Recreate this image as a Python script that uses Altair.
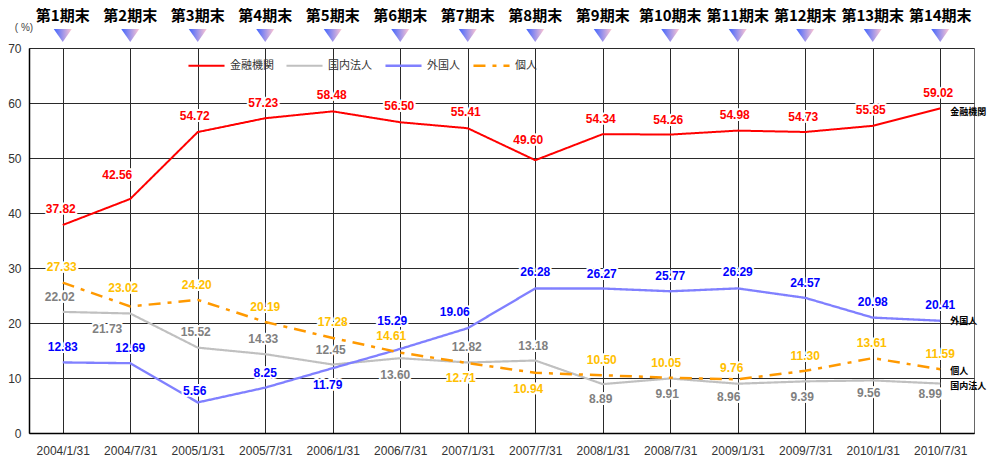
import altair as alt
import pandas as pd

# ---------------- data ----------------
dates = ["2004/1/31", "2004/7/31", "2005/1/31", "2005/7/31", "2006/1/31", "2006/7/31",
         "2007/1/31", "2007/7/31", "2008/1/31", "2008/7/31", "2009/1/31", "2009/7/31",
         "2010/1/31", "2010/7/31"]
periods = ["第1期末", "第2期末", "第3期末", "第4期末", "第5期末", "第6期末", "第7期末",
           "第8期末", "第9期末", "第10期末", "第11期末", "第12期末", "第13期末", "第14期末"]
series_names = ["金融機関", "国内法人", "外国人", "個人"]

financial = [37.82, 42.56, 54.72, 57.23, 58.48, 56.50, 55.41, 49.60, 54.34, 54.26, 54.98, 54.73, 55.85, 59.02]
domestic = [22.02, 21.73, 15.52, 14.33, 12.45, 13.60, 12.82, 13.18, 8.89, 9.91, 8.96, 9.39, 9.56, 8.99]
foreign = [12.83, 12.69, 5.56, 8.25, 11.79, 15.29, 19.06, 26.28, 26.27, 25.77, 26.29, 24.57, 20.98, 20.41]
individual = [27.33, 23.02, 24.20, 20.19, 17.28, 14.61, 12.71, 10.94, 10.50, 10.05, 9.76, 11.30, 13.61, 11.59]

# ---------------- label placement (pixel offsets from each point) ----------------
fin_dx = [-2, -13, -3, -2, -1, -1, -2, -7, -2, -2, -3, -2, -2, -2]
fin_dy = [-16, -24, -16, -15, -16, -16, -16, -20, -15, -15, -16, -15, -16, -15]
dom_dx = [-3, -23, -2, -2, -2, -5, -1, -2, -2, -3, -9, -3, -4, -10]
dom_dy = [-15, 16, -16, -15, -15, 17, -15, -15, 15, 16, 13, 16, 13, 10]
for_dx = [0, 0, -3, 0, -5, -8, -13, 0, -1, 0, 0, 0, 0, 0]
for_dy = [-15, -15, -11, -15, 17, -28, -16, -16, -15, -15, -16, -15, -16, -16]
ind_dx = [-1, -7, -1, 0, 0, -9, -7, -7, -1, -4, -6, 0, -1, 0]
ind_dy = [-16, -18, -15, -15, -16, -17, 15, 16, -15, -15, -11, -15, -15, -15]
end_dy = [4, 2, 0, 2]

# ---------------- styles ----------------
line_colors = ["#ff0000", "#c0c0c0", "#8080ff", "#ff9900"]
label_colors = ["#ff0000", "#808080", "#0000ff", "#ffc000"]
dashes = [[1, 0], [1, 0], [1, 0], [12, 7, 4, 7]]
widths = [2, 2.5, 3, 3]

rows = []
for s, vals, dxs, dys, lc in zip(series_names,
                                 [financial, domestic, foreign, individual],
                                 [fin_dx, dom_dx, for_dx, ind_dx],
                                 [fin_dy, dom_dy, for_dy, ind_dy],
                                 label_colors):
    for d, v, dx, dy in zip(dates, vals, dxs, dys):
        rows.append(dict(series=s, date=d, value=v, label=f"{v:.2f}", dx=dx, dy=dy, lcolor=lc))
df = pd.DataFrame(rows)

end_rows = []
for s, vals, edy in zip(series_names, [financial, domestic, foreign, individual], end_dy):
    end_rows.append(dict(series=s, date=dates[-1], value=vals[-1], edy=edy))
df_end = pd.DataFrame(end_rows)

df_head = pd.DataFrame(dict(date=dates, period=periods))

X = alt.X("date:O", sort=dates, scale=alt.Scale(type="point", padding=0.5),
          axis=alt.Axis(title=None, labelAngle=0, ticks=False, grid=True, gridColor="#2a2a2a",
                        gridWidth=1, domainColor="#000000", domainWidth=1.5,
                        labelFont="Liberation Sans", labelFontSize=12, labelColor="#333333",
                        labelPadding=12))
Y = alt.Y("value:Q", scale=alt.Scale(domain=[0, 70], nice=False),
          axis=alt.Axis(title=None, values=list(range(0, 71, 10)), ticks=False, grid=True,
                        gridColor="#2a2a2a", gridWidth=1, domainColor="#000000", domainWidth=1.5,
                        labelFont="Liberation Sans", labelFontSize=12, labelColor="#333333",
                        labelPadding=8))

legend_kw = dict(title=None, orient="none", legendX=158, legendY=-2, direction="horizontal",
                 symbolType="stroke", symbolSize=1300, symbolStrokeWidth=2.5,
                 labelFont="Noto Sans CJK JP", labelFontSize=11, labelColor="#333333",
                 labelOffset=4, columnPadding=8, padding=0)

base = alt.Chart(df)

lines = base.mark_line().encode(
    x=X, y=Y,
    color=alt.Color("series:N", sort=series_names,
                    scale=alt.Scale(domain=series_names, range=line_colors),
                    legend=alt.Legend(**legend_kw)),
    strokeDash=alt.StrokeDash("series:N", sort=series_names,
                              scale=alt.Scale(domain=series_names, range=dashes),
                              legend=alt.Legend(**legend_kw)),
    strokeWidth=alt.StrokeWidth("series:O", scale=alt.Scale(domain=series_names, range=widths),
                                legend=None),
)

combos = sorted(set(zip(df["dx"], df["dy"])))
halos = []
texts = []
for dx, dy in combos:
    filt = f"datum.dx == {dx} && datum.dy == {dy}"
    halos.append(base.transform_filter(filt).mark_text(
        dx=dx, dy=dy, font="Liberation Sans", fontWeight="bold", fontSize=12,
        fill="white", stroke="white", strokeWidth=4, strokeJoin="round", baseline="middle"
    ).encode(x=X, y=Y, text="label:N"))
    texts.append(base.transform_filter(filt).mark_text(
        dx=dx, dy=dy, font="Liberation Sans", fontWeight="bold", fontSize=12, baseline="middle"
    ).encode(x=X, y=Y, text="label:N", fill=alt.Fill("lcolor:N", scale=None)))

ends = []
for edy in sorted(set(end_dy)):
    ends.append(alt.Chart(df_end).transform_filter(f"datum.edy == {edy}").mark_text(
        align="left", dx=10, dy=edy, font="Noto Sans CJK JP", fontWeight="bold", fontSize=9,
        color="#000000", baseline="middle"
    ).encode(x=X, y=Y, text="series:N"))

head = alt.Chart(df_head).mark_text(
    font="Noto Sans CJK JP", fontWeight="bold", fontSize=15, color="#000000", baseline="middle"
).encode(x=X, y=alt.value(-32), text="period:N")

grad = alt.Gradient(gradient="linear",
                    stops=[alt.GradientStop(color="#3f64ff", offset=0),
                           alt.GradientStop(color="#ffc6d2", offset=1)],
                    x1=0, x2=1, y1=0, y2=0)
tri = alt.Chart(df_head).mark_point(
    shape="M-1,-0.72L1,-0.72L0,0.72Z", size=324, filled=True, fill=grad, opacity=1, strokeWidth=0
).encode(x=X, y=alt.value(-12.5))

unit = alt.Chart(pd.DataFrame(dict(t=["( %)"]))).mark_text(
    font="Liberation Sans", fontSize=10, color="#444444", baseline="middle"
).encode(x=alt.value(-5), y=alt.value(-20), text="t:N")

chart = alt.layer(lines, *halos, *texts, *ends, head, tri, unit).properties(
    width=945, height=385,
    autosize=alt.AutoSizeParams(type="none"),
    padding={"left": 21, "top": 40, "right": 13, "bottom": 26},
).configure_view(stroke="#666666", strokeWidth=1)

chart.save("out.html", embed_options={"renderer": "svg", "actions": False})
